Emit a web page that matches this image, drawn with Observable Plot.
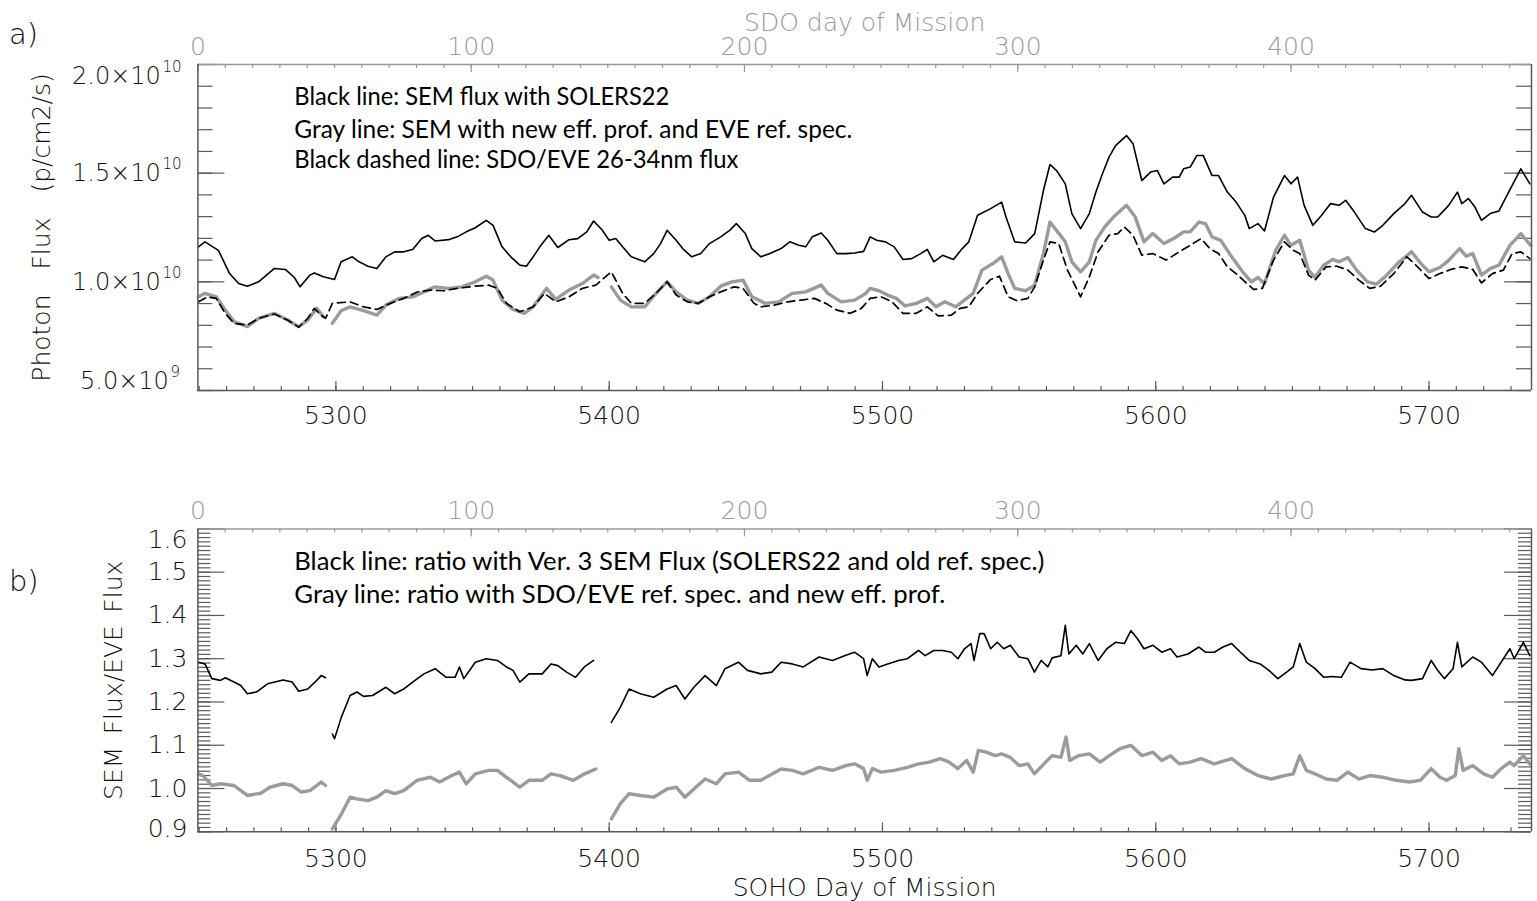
<!DOCTYPE html>
<html><head><meta charset="utf-8">
<script src="https://cdn.jsdelivr.net/npm/d3@7"></script>
<script src="https://cdn.jsdelivr.net/npm/@observablehq/plot@0.6"></script>
<style>
html,body{margin:0;padding:0;background:#fff;}
#chart{position:relative;width:1537px;height:901px;overflow:hidden;background:#fff;}
#chart svg{position:absolute;left:0;overflow:visible;}
</style></head>
<body><div id="chart"></div>
<script>
// ---------------- DATA ----------------
// SOHO day of mission at SDO day 0
const sdoOffset = 5249.5;
const xDomain = [5249.5, 5737.5];
const sohoTicks = [5300, 5400, 5500, 5600, 5700];
const sdoTicks = [0, 100, 200, 300, 400];
// panel a: photon flux, in units of 1e10 p/cm2/s
const fluxTicks = [2.0, 1.5, 1.0, 0.5];
const fluxMantissa = ["2.0", "1.5", "1.0", "5.0"];
const fluxExponent = ["10", "10", "10", "9"];
// panel b: ratio
const ratioTicks = [1.6, 1.5, 1.4, 1.3, 1.2, 1.1, 1.0, 0.9];
const ratioLabels = ["1.6", "1.5", "1.4", "1.3", "1.2", "1.1", "1.0", "0.9"];

const notesA = ["Black line: SEM flux with SOLERS22",
  "Gray line: SEM with new eff. prof. and EVE ref. spec.",
  "Black dashed line: SDO/EVE 26-34nm flux"];
const notesB = ["Black line: ratio with Ver. 3 SEM Flux (SOLERS22 and old ref. spec.)",
  "Gray line: ratio with SDO/EVE ref. spec. and new eff. prof."];

// Black line: SEM flux with SOLERS22
const semDay = [5249.7,5252.1,5257.0,5261.1,5264.4,5267.6,5271.7,5277.4,5281.5,5284.8,5286.9,5290.5,5292.1,5295.4,5299.5,5301.9,5306.0,5308.5,5311.7,5315.0,
5318.3,5321.5,5324.8,5328.1,5331.4,5333.8,5336.3,5341.2,5344.4,5347.7,5351.0,5355.0,5357.5,5360.8,5364.0,5367.3,5369.7,5372.2,5374.6,5377.9,
5381.2,5385.3,5388.5,5391.8,5394.3,5397.5,5400.0,5402.4,5404.9,5408.1,5413.0,5416.3,5418.8,5421.2,5424.5,5426.9,5430.2,5433.5,5436.7,5440.8,
5444.1,5446.5,5449.8,5452.2,5455.5,5458.8,5462.9,5466.1,5469.4,5471.9,5474.3,5477.6,5480.0,5483.3,5486.6,5489.8,5493.1,5495.5,5497.9,5501.1,
5504.3,5507.5,5510.7,5514.0,5516.4,5518.8,5522.0,5526.0,5529.2,5531.6,5534.8,5539.6,5543.6,5545.2,5548.4,5552.4,5555.7,5558.9,5561.3,5563.7,
5566.9,5569.3,5572.5,5575.7,5578.1,5580.5,5582.9,5585.3,5589.3,5591.7,5594.9,5598.1,5600.6,5603.0,5606.2,5608.6,5610.2,5612.6,5615.0,5617.4,
5620.6,5623.0,5626.2,5629.4,5632.6,5634.2,5637.4,5639.8,5643.1,5647.1,5649.5,5651.9,5654.3,5657.5,5660.7,5664.0,5667.1,5669.5,5672.7,5676.7,
5680.0,5683.1,5687.1,5691.2,5693.6,5697.6,5700.8,5703.2,5707.2,5710.4,5712.0,5714.4,5716.8,5719.2,5722.4,5725.6,5728.8,5733.6,5736.9];
const semFlux = [1.161,1.184,1.145,1.038,0.992,0.980,1.000,1.061,1.057,1.020,0.977,1.031,1.041,1.023,1.011,1.092,1.115,1.092,1.072,1.061,
1.115,1.138,1.138,1.149,1.199,1.214,1.188,1.194,1.207,1.230,1.249,1.283,1.260,1.161,1.115,1.077,1.072,1.115,1.161,1.214,
1.158,1.194,1.199,1.230,1.280,1.237,1.191,1.199,1.161,1.115,1.092,1.130,1.176,1.237,1.191,1.153,1.115,1.130,1.176,1.207,
1.237,1.268,1.222,1.153,1.115,1.130,1.153,1.184,1.168,1.161,1.207,1.225,1.191,1.130,1.130,1.133,1.140,1.207,1.191,1.184,
1.161,1.103,1.107,1.130,1.149,1.092,1.122,1.103,1.153,1.184,1.306,1.337,1.367,1.298,1.184,1.179,1.222,1.420,1.540,1.512,
1.451,1.314,1.245,1.314,1.413,1.497,1.574,1.627,1.673,1.635,1.466,1.505,1.512,1.451,1.482,1.482,1.520,1.528,1.581,1.581,
1.489,1.489,1.413,1.367,1.306,1.245,1.268,1.234,1.390,1.489,1.451,1.482,1.352,1.260,1.306,1.360,1.352,1.375,1.321,1.245,
1.229,1.260,1.314,1.360,1.398,1.321,1.298,1.298,1.352,1.413,1.360,1.383,1.344,1.283,1.314,1.326,1.405,1.520,1.451];

// Gray line: SEM with new eff. prof. and EVE ref. spec. (null = data gap)
const newDay = [5249.7,5252.1,5256.2,5259.5,5262.7,5267.6,5271.7,5277.4,5282.3,5286.4,5289.7,5293.0,5295.4,5297.0,5298.7,5301.9,5305.2,5310.1,5315.0,5318.3,
5323.2,5328.1,5332.2,5336.3,5341.2,5346.1,5351.0,5355.0,5357.5,5360.8,5364.8,5368.9,5372.2,5377.1,5380.4,5385.3,5390.2,5394.3,5395.9,5398.0,
5400.8,5404.1,5408.1,5413.0,5417.1,5421.2,5424.5,5428.6,5432.6,5436.7,5440.8,5444.9,5449.0,5452.2,5457.1,5462.0,5467.0,5471.9,5477.6,5480.0,
5484.9,5489.8,5493.9,5495.5,5498.7,5501.9,5505.1,5508.3,5512.4,5516.4,5519.6,5522.8,5526.8,5530.8,5533.2,5536.4,5540.4,5543.6,5546.0,5548.4,
5552.4,5555.7,5558.9,5561.3,5563.7,5566.9,5569.3,5572.5,5575.7,5578.1,5581.3,5584.5,5589.3,5592.5,5595.7,5598.9,5603.0,5607.0,5610.2,5612.6,
5615.8,5618.2,5620.6,5623.8,5627.8,5631.8,5635.0,5637.4,5639.8,5643.9,5647.1,5649.5,5652.7,5655.9,5658.3,5661.5,5664.7,5667.1,5670.3,5673.5,
5677.5,5680.7,5683.9,5688.7,5693.6,5696.8,5700.0,5704.0,5707.2,5711.2,5713.6,5716.0,5719.2,5722.4,5725.6,5729.6,5733.6,5737.2];
const newFlux = [0.931,0.947,0.931,0.870,0.817,0.794,0.832,0.855,0.824,0.794,0.824,0.878,0.840,null,0.809,0.867,0.885,0.867,0.847,0.893,
0.924,0.931,0.954,0.977,0.970,0.977,1.000,1.026,1.008,0.916,0.873,0.855,0.885,0.970,0.919,0.962,0.992,1.031,1.020,null,
0.977,0.916,0.885,0.885,0.947,1.000,0.954,0.916,0.901,0.931,0.980,1.000,1.008,0.931,0.901,0.908,0.947,0.954,0.985,0.947,
0.908,0.916,0.947,0.970,0.959,0.939,0.924,0.889,0.901,0.924,0.885,0.908,0.885,0.924,0.947,1.054,1.084,1.115,1.038,0.970,
0.959,0.985,1.130,1.275,1.237,1.184,1.092,1.046,1.092,1.191,1.252,1.298,1.352,1.298,1.184,1.222,1.176,1.203,1.230,1.230,
1.275,1.268,1.207,1.191,1.115,1.046,1.000,1.020,0.992,1.145,1.214,1.168,1.191,1.054,1.020,1.077,1.103,1.092,1.112,1.054,
1.000,0.989,1.023,1.087,1.138,1.087,1.046,1.066,1.099,1.153,1.118,1.130,1.031,1.061,1.077,1.168,1.222,1.168];

// Black dashed line: SDO/EVE 26-34nm flux
const eveDay = [5249.7,5253.0,5256.2,5259.5,5262.7,5267.6,5271.7,5277.4,5282.3,5286.4,5289.7,5292.1,5294.6,5296.2,5298.7,5305.2,5310.1,5315.0,5320.0,5324.8,
5330.0,5334.6,5339.5,5344.4,5351.0,5355.9,5359.1,5362.4,5367.3,5372.2,5376.3,5380.4,5385.3,5390.2,5395.1,5400.8,5402.4,5404.9,5408.1,5413.0,
5417.1,5421.2,5424.5,5428.6,5432.6,5436.7,5440.8,5445.7,5449.0,5453.0,5455.5,5460.4,5465.3,5470.2,5475.1,5479.2,5483.3,5488.2,5492.3,5495.5,
5499.5,5503.5,5507.5,5512.4,5516.4,5520.4,5525.2,5528.4,5531.6,5534.8,5539.6,5542.8,5546.0,5549.2,5553.2,5555.7,5558.9,5561.3,5564.5,5567.7,
5572.5,5575.7,5578.9,5582.9,5586.1,5588.5,5591.7,5594.9,5598.9,5603.8,5608.6,5612.6,5616.6,5619.8,5623.0,5626.2,5629.4,5633.4,5635.8,5639.0,
5643.1,5647.1,5650.3,5652.7,5655.9,5658.3,5662.3,5666.3,5670.3,5674.3,5678.3,5682.3,5687.1,5691.9,5695.2,5700.0,5704.0,5708.0,5712.0,5716.0,
5719.2,5723.2,5727.2,5730.4,5733.6,5736.9];
const eveFlux = [0.908,0.931,0.924,0.855,0.809,0.801,0.832,0.852,0.824,0.791,0.832,0.878,0.847,0.832,0.901,0.908,0.885,0.873,0.901,0.924,
0.954,0.962,0.959,0.970,0.980,0.985,0.970,0.901,0.862,0.885,0.947,0.908,0.931,0.970,0.985,1.046,1.008,0.947,0.901,0.901,
0.947,1.000,0.939,0.908,0.901,0.931,0.954,0.977,0.970,0.901,0.885,0.893,0.908,0.916,0.924,0.901,0.870,0.855,0.878,0.924,
0.931,0.908,0.855,0.855,0.885,0.843,0.847,0.878,0.885,0.947,1.011,1.026,0.931,0.913,0.924,0.977,1.100,1.184,1.176,1.054,
0.931,1.023,1.138,1.214,1.222,1.252,1.214,1.123,1.130,1.100,1.138,1.168,1.199,1.153,1.130,1.069,1.038,0.992,0.965,0.970,
1.100,1.184,1.145,1.130,1.031,1.008,1.069,1.072,1.054,1.008,0.970,0.980,1.038,1.115,1.077,1.015,1.038,1.057,1.069,1.057,
0.995,1.038,1.054,1.130,1.138,1.107];

// Panel b black: ratio with Ver. 3 SEM flux
const ratioOldDay = [5249.7,5252.1,5254.6,5257.8,5259.5,5262.7,5265.2,5267.6,5270.9,5275.0,5280.7,5284.0,5286.4,5289.7,5293.0,5294.6,5296.2,5297.5,5298.7,5299.5,
5302.0,5305.2,5307.7,5310.1,5313.4,5318.3,5321.5,5324.8,5328.1,5332.2,5336.3,5340.3,5343.6,5345.2,5346.8,5351.0,5355.0,5359.1,5362.4,5364.8,
5367.3,5370.6,5375.5,5378.7,5381.2,5384.4,5387.7,5390.9,5394.3,5397.5,5400.8,5404.1,5407.3,5411.4,5416.3,5421.2,5424.5,5427.7,5431.0,5435.1,
5439.2,5442.4,5447.3,5450.6,5455.5,5459.5,5462.9,5467.0,5471.0,5476.8,5481.7,5486.6,5489.8,5493.1,5494.4,5496.3,5498.7,5501.9,5505.9,5509.1,
5513.2,5515.6,5518.8,5522.0,5525.2,5527.6,5530.0,5532.4,5533.5,5535.6,5537.2,5539.6,5542.0,5544.4,5546.8,5550.0,5553.2,5555.6,5558.1,5560.5,
5562.1,5565.3,5566.9,5568.2,5570.9,5573.3,5575.7,5578.9,5582.1,5585.3,5588.5,5590.9,5593.3,5595.7,5599.0,5602.2,5605.4,5607.8,5611.8,5615.8,
5618.2,5621.4,5624.6,5627.8,5631.0,5634.2,5638.2,5641.4,5644.7,5647.9,5650.3,5652.7,5655.1,5658.3,5661.5,5664.7,5667.9,5671.1,5675.1,5679.1,
5683.1,5687.1,5691.2,5693.6,5697.6,5700.8,5703.2,5705.6,5708.8,5710.4,5712.0,5716.0,5719.2,5723.2,5727.2,5729.6,5731.2,5734.5,5736.9];
const ratioOld = [1.292,1.288,1.254,1.250,1.256,1.246,1.238,1.219,1.223,1.242,1.251,1.246,1.225,1.230,1.250,1.261,1.256,null,1.126,1.115,
1.165,1.215,1.223,1.213,1.215,1.234,1.219,1.230,1.246,1.265,1.277,1.257,1.257,1.281,1.254,1.292,1.300,1.296,1.281,1.273,
1.246,1.265,1.265,1.288,1.284,1.269,1.257,1.281,1.296,null,1.153,1.188,1.230,1.219,1.211,1.230,1.238,1.207,1.234,1.261,
1.238,1.277,1.292,1.273,1.265,1.269,1.292,1.288,1.281,1.304,1.296,1.308,1.315,1.300,1.261,1.300,1.281,1.288,1.296,1.300,
1.319,1.307,1.319,1.319,1.315,1.300,1.323,1.335,1.296,1.358,1.358,1.323,1.338,1.323,1.331,1.304,1.300,1.269,1.296,1.281,
1.302,1.307,1.377,1.311,1.331,1.311,1.335,1.296,1.323,1.338,1.335,1.365,1.346,1.323,1.331,1.315,1.323,1.304,1.311,1.327,
1.315,1.315,1.327,1.335,1.315,1.296,1.288,1.273,1.254,1.269,1.281,1.335,1.292,1.277,1.257,1.259,1.257,1.292,1.277,1.274,
1.277,1.261,1.251,1.250,1.254,1.296,1.273,1.254,1.277,1.338,1.281,1.304,1.292,1.261,1.300,1.323,1.300,1.338,1.307];

// Panel b gray: ratio with SDO/EVE ref. spec. and new eff. prof.
const ratioNewDay = [5249.7,5251.3,5254.6,5257.8,5262.7,5267.6,5272.5,5275.8,5280.7,5284.0,5287.2,5290.5,5294.6,5296.2,5297.5,5298.7,5302.0,5305.2,5307.7,5311.7,
5315.0,5318.3,5321.5,5324.8,5329.7,5334.6,5337.9,5341.2,5345.2,5347.7,5351.0,5355.9,5359.1,5362.4,5367.3,5370.6,5375.5,5378.7,5382.0,5386.9,
5391.0,5395.1,5397.5,5400.8,5404.1,5407.3,5411.4,5416.3,5421.2,5424.5,5427.7,5431.0,5435.1,5439.2,5442.4,5447.3,5451.4,5455.5,5462.9,5467.0,
5471.0,5476.8,5481.7,5486.6,5489.8,5493.1,5494.4,5496.3,5499.5,5504.3,5509.1,5513.2,5517.2,5521.2,5524.4,5527.6,5530.8,5533.2,5535.1,5538.0,
5541.2,5543.6,5546.8,5550.0,5553.2,5555.6,5559.7,5562.1,5565.3,5567.2,5568.5,5571.7,5575.7,5579.7,5583.0,5586.9,5590.9,5595.0,5599.0,5602.2,
5605.4,5608.6,5612.6,5616.6,5621.4,5627.8,5632.6,5637.4,5642.2,5647.1,5650.3,5652.7,5655.1,5658.3,5662.3,5666.3,5670.3,5674.3,5678.3,5683.1,
5688.0,5692.8,5696.8,5700.8,5704.0,5706.4,5709.6,5710.9,5712.5,5716.0,5720.0,5723.2,5726.4,5729.6,5731.2,5734.5,5736.9];
const ratioNew = [1.034,1.030,1.007,1.011,1.007,0.984,0.989,1.003,1.011,1.007,0.992,0.995,1.015,1.007,null,0.907,0.941,0.980,0.976,0.972,
0.980,0.995,0.988,0.995,1.019,1.026,1.015,1.026,1.038,1.011,1.034,1.042,1.042,1.026,1.003,1.019,1.019,1.034,1.030,1.019,
1.034,1.045,null,0.930,0.965,0.988,0.984,0.980,0.999,1.003,0.980,0.999,1.022,1.011,1.034,1.038,1.019,1.019,1.045,1.042,
1.034,1.049,1.042,1.053,1.057,1.046,1.019,1.046,1.038,1.042,1.049,1.057,1.061,1.069,1.061,1.046,1.065,1.038,1.088,1.084,
1.076,1.080,1.072,1.053,1.057,1.034,1.061,1.076,1.072,1.119,1.065,1.076,1.080,1.061,1.076,1.092,1.100,1.076,1.084,1.065,
1.076,1.057,1.061,1.069,1.057,1.069,1.046,1.030,1.022,1.030,1.034,1.076,1.042,1.034,1.022,1.019,1.038,1.022,1.030,1.026,
1.019,1.015,1.019,1.046,1.026,1.019,1.030,1.092,1.042,1.053,1.034,1.026,1.046,1.061,1.053,1.076,1.057];

// ---------------- DRAWING ----------------
const W = 1537;
const mL = 197.4, mR = 6;
const plotW = W - mL - mR;
const ink = "#111";
const frameInk = "#5a5a5a";
const topInk = "#9a9a9a";
const grayLine = "#9b9b9b";
const tickFont = "DejaVu Sans";
const noteFont = "Lato";
const lblW = 300;

const series = (days, vals) => days.map((d, i) => ({day: d, v: vals[i]}));
const sohoMinor = d3.range(5250, 5738, 10);
const sdoMinor = d3.range(0, 489, 10);

const txt = (o) => Object.assign({lineAnchor: "middle", fill: ink, fontSize: 25, fontFamily: tickFont, fontWeight: lblW}, o);

function commonX(plotH) {
  return [
    Plot.tickX(sohoMinor, {x: d => d, stroke: frameInk, strokeWidth: 1.2, insetTop: plotH - 4}),
    Plot.tickX(sohoTicks, {x: d => d, stroke: frameInk, strokeWidth: 1.2, insetTop: plotH - 9}),
    Plot.tickX(sdoMinor, {x: d => d + sdoOffset, stroke: topInk, strokeWidth: 1.2, insetBottom: plotH - 4}),
    Plot.tickX(sdoTicks, {x: d => d + sdoOffset, stroke: topInk, strokeWidth: 1.2, insetBottom: plotH - 8}),
    Plot.text(sdoTicks, txt({x: d => d + sdoOffset, frameAnchor: "top", dy: -18, text: d => String(d), textAnchor: "middle", fill: topInk}))
  ];
}

function yTicks(minor, major, minorLen) {
  return [
    Plot.tickY(minor, {y: d => d, stroke: frameInk, strokeWidth: 1.2, insetRight: plotW - minorLen}),
    Plot.tickY(minor, {y: d => d, stroke: frameInk, strokeWidth: 1.2, insetLeft: plotW - minorLen}),
    Plot.tickY(major, {y: d => d, stroke: frameInk, strokeWidth: 1.2, insetRight: plotW - 27}),
    Plot.tickY(major, {y: d => d, stroke: frameInk, strokeWidth: 1.2, insetLeft: plotW - 27})
  ];
}

function frame(yLo, yHi) {
  return [
    Plot.ruleY([yHi], {stroke: topInk, strokeWidth: 1.5}),
    Plot.ruleX([xDomain[0], xDomain[1]], {stroke: frameInk, strokeWidth: 1.5}),
    Plot.ruleY([yLo], {stroke: frameInk, strokeWidth: 1.5})
  ];
}

function notes(lines, dys) {
  return lines.map((line, i) => Plot.text([line], {frameAnchor: "top-left", dx: 96.4, dy: dys[i],
    text: d => d, textAnchor: "start", lineAnchor: "middle", fill: "#000", fontSize: 24.5, fontFamily: noteFont}));
}

// ----- Panel a -----
const aTop = 64, aBottom = 60, aH = 450;
const aPlotH = aH - aTop - aBottom;
const fluxLabels = fluxTicks.map((v, i) => ({v, m: fluxMantissa[i] + "\u00d710", e: fluxExponent[i]}));
const fluxLabelMarks = fluxLabels.flatMap((d, i) => {
  const shift = i === 0 ? 12 : i === fluxLabels.length - 1 ? -9 : 0;
  const mEnd = d.e.length === 2 ? -37 : -29;
  return [
    Plot.text([d], txt({y: "v", frameAnchor: "left", text: "m", textAnchor: "end", dx: mEnd, dy: shift, fontSize: 24})),
    Plot.text([d], txt({y: "v", frameAnchor: "left", text: "e", textAnchor: "start", dx: mEnd + 1.5, dy: shift - 9, fontSize: 15}))
  ];
});

const panelA = Plot.plot({
  width: W, height: aH, marginLeft: mL, marginRight: mR, marginTop: aTop, marginBottom: aBottom,
  x: {domain: xDomain, axis: null},
  y: {domain: [0.5, 2.0], axis: null},
  style: {background: "transparent", overflow: "visible"},
  marks: [
    ...yTicks(d3.range(0.5, 2.0001, 0.1), [0.5, 1.0, 1.5, 2.0], 15),
    ...commonX(aPlotH),
    Plot.line(series(newDay, newFlux), {x: "day", y: "v", stroke: grayLine, strokeWidth: 3.4}),
    Plot.line(series(eveDay, eveFlux), {x: "day", y: "v", stroke: "#000", strokeWidth: 1.7, strokeDasharray: "8,5"}),
    Plot.line(series(semDay, semFlux), {x: "day", y: "v", stroke: "#000", strokeWidth: 1.6}),
    ...frame(0.5, 2.0),
    Plot.text(sohoTicks, txt({x: d => d, frameAnchor: "bottom", dy: 25, text: d => String(d), textAnchor: "middle"})),
    ...fluxLabelMarks,
    Plot.text(["SDO day of Mission"], txt({frameAnchor: "top", dy: -42, textAnchor: "middle", fill: topInk})),
    Plot.text(["Photon\u2003Flux\u2003(p/cm2/s)"], txt({frameAnchor: "left", dx: -156, rotate: -90, textAnchor: "middle"})),
    Plot.text(["a)"], txt({frameAnchor: "top-left", dx: -189, dy: -30, textAnchor: "start", fontSize: 29})),
    ...notes(notesA, [32.5, 65.5, 96])
  ]
});

// ----- Panel b -----
const bTop = 78.4, bBottom = 69.7, bH = 451;
const bPlotH = bH - bTop - bBottom;
const ratioLabelData = ratioTicks.map((v, i) => ({v, t: ratioLabels[i]}));
const ratioLabelMarks = ratioLabelData.map((d, i) => {
  const shift = i === 0 ? 11 : i === ratioLabelData.length - 1 ? -3 : 0;
  return Plot.text([d], txt({y: "v", frameAnchor: "left", text: "t", textAnchor: "end", dx: -10.5, dy: shift}));
});

const panelB = Plot.plot({
  width: W, height: bH, marginLeft: mL, marginRight: mR, marginTop: bTop, marginBottom: bBottom,
  x: {domain: xDomain, axis: null},
  y: {domain: [0.9, 1.6], axis: null},
  style: {background: "transparent", overflow: "visible"},
  marks: [
    ...yTicks(d3.range(0.9, 1.6001, 0.01), ratioTicks, 13),
    ...commonX(bPlotH),
    Plot.line(series(ratioNewDay, ratioNew), {x: "day", y: "v", stroke: grayLine, strokeWidth: 3.4}),
    Plot.line(series(ratioOldDay, ratioOld), {x: "day", y: "v", stroke: "#000", strokeWidth: 1.6}),
    ...frame(0.9, 1.6),
    Plot.text(sohoTicks, txt({x: d => d, frameAnchor: "bottom", dy: 27, text: d => String(d), textAnchor: "middle"})),
    ...ratioLabelMarks,
    Plot.text(["SOHO Day of Mission"], txt({frameAnchor: "bottom", dy: 55.7, textAnchor: "middle"})),
    Plot.text(["SEM\u2002Flux/EVE\u2002Flux"], txt({frameAnchor: "left", dx: -84, rotate: -90, textAnchor: "middle"})),
    Plot.text(["b)"], txt({frameAnchor: "top-left", dx: -189, dy: 53, textAnchor: "start", fontSize: 29})),
    ...notes(notesB, [33, 66])
  ]
});

const chart = document.getElementById("chart");
panelA.style.top = "0px";
panelB.style.top = aH + "px";
chart.appendChild(panelA);
chart.appendChild(panelB);

// fit the annotation lines to the widths they take in the original figure
const noteWidths = new Map([[notesA[0], 375], [notesA[1], 558], [notesA[2], 444], [notesB[0], 750], [notesB[1], 651]]);
d3.select(chart).selectAll("text").each(function() {
  const w = noteWidths.get(this.textContent);
  if (w) { this.setAttribute("textLength", w); this.setAttribute("lengthAdjust", "spacingAndGlyphs"); }
});
</script>
</body></html>
